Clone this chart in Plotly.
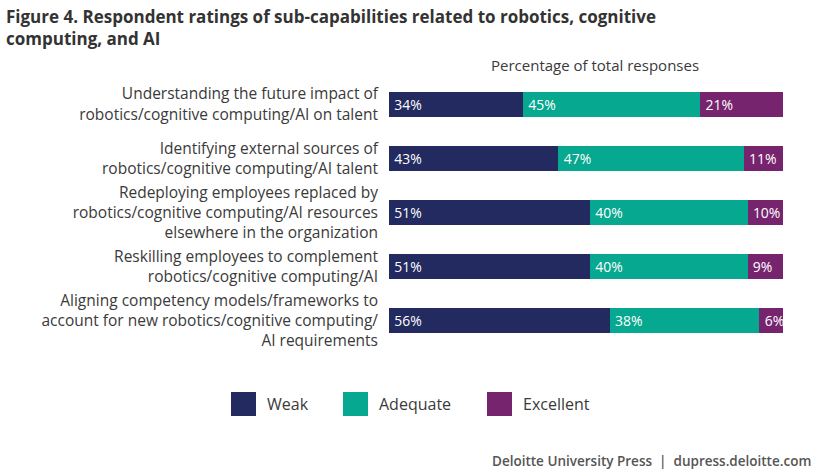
import plotly.graph_objects as go

categories = [
    "Understanding the future impact of<br>robotics/cognitive computing/AI on talent",
    "Identifying external sources of<br>robotics/cognitive computing/AI talent",
    "Redeploying employees replaced by<br>robotics/cognitive computing/AI resources<br>elsewhere in the organization",
    "Reskilling employees to complement<br>robotics/cognitive computing/AI",
    "Aligning competency models/frameworks to<br>account for new robotics/cognitive computing/<br>AI requirements",
]
series_names = ["Weak", "Adequate", "Excellent"]
weak = [34, 43, 51, 51, 56]
adequate = [45, 47, 40, 40, 38]
excellent = [21, 11, 10, 9, 6]
colors = ["#222a60", "#06a88f", "#77246f"]

FONT = "Open Sans"
TXT = "#3a3a3a"

# page coords -> paper coords of plot area (plot area spans x 389..783, y 77..348)
def px(x):
    return (x - 389) / 394

def py(y):
    return (348 - y) / 271

fig = go.Figure()
for name, vals, col in zip(series_names, [weak, adequate, excellent], colors):
    fig.add_trace(go.Bar(
        y=categories, x=vals, name=name, orientation="h",
        marker=dict(color=col, line=dict(width=0)),
        text=[f"\u2009{v}%" for v in vals], textposition="inside",
        insidetextanchor="start", textangle=0,
        textfont=dict(color="white", size=14, family=FONT),
        showlegend=False,
    ))

fig.update_layout(
    barmode="stack", bargap=0.54,
    width=820, height=472,
    paper_bgcolor="white", plot_bgcolor="rgba(0,0,0,0)",
    margin=dict(l=389, r=37, t=77, b=124, pad=0),
    font=dict(family=FONT, color=TXT),
    uniformtext=dict(minsize=12, mode="show"),
    xaxis=dict(range=[0, 100], visible=False, fixedrange=True),
    yaxis=dict(autorange="reversed", showgrid=False, zeroline=False, showline=False,
               ticks="", ticklabelstandoff=10,
               tickfont=dict(size=15.5, color=TXT, family=FONT)),
)

fig.add_annotation(text="Figure 4. Respondent ratings of sub-capabilities related to robotics, cognitive<br>computing, and AI",
                   xref="paper", yref="paper", x=px(4), y=py(3), xanchor="left", yanchor="top",
                   align="left", showarrow=False,
                   font=dict(size=17, color="#333333", family=FONT, weight=700))

fig.add_annotation(text="Percentage of total responses", xref="paper", yref="paper",
                   x=px(595), y=py(65), xanchor="center", yanchor="middle", showarrow=False,
                   font=dict(size=15, color=TXT, family=FONT))

# custom legend
leg_x = [231, 343, 487]
for name, col, lx in zip(series_names, colors, leg_x):
    fig.add_shape(type="rect", xref="paper", yref="paper",
                  x0=px(lx), x1=px(lx + 25), y0=py(416), y1=py(392),
                  fillcolor=col, line=dict(width=0))
    fig.add_annotation(text=name, xref="paper", yref="paper",
                       x=px(lx + 34), y=py(404),
                       xanchor="left", yanchor="middle", showarrow=False,
                       font=dict(size=16, color=TXT, family=FONT))

fig.add_annotation(text="Deloitte University Press  |  dupress.deloitte.com",
                   xref="paper", yref="paper", x=px(813), y=py(461),
                   xanchor="right", yanchor="middle", showarrow=False,
                   font=dict(size=13.5, color="#555555", family=FONT, weight=600))

fig.write_html("out.html", config={"displayModeBar": False, "staticPlot": True},
               post_script="document.body.style.margin='0';document.body.style.overflow='hidden';")
